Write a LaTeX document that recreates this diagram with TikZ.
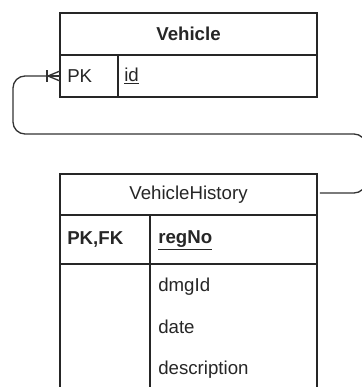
\documentclass[tikz,border=0pt]{standalone}
\usepackage{fontspec}
\setmainfont{Liberation Sans}
\usetikzlibrary{arrows.meta}
\begin{document}
\begin{tikzpicture}[x=0.75pt,y=-0.75pt,
  box/.style={draw=black!85,line width=1pt,inner sep=0pt,outer sep=0pt},
  lbl/.style={font=\fontsize{14}{16}\selectfont,text=black!85,inner sep=0pt},
  conn/.style={draw=black!80,line width=1pt,rounded corners=9pt}]
\useasboundingbox (0,0) rectangle (362,387);
\clip (0,0) rectangle (362,387);
% Vehicle entity
\node[box,minimum width=257*0.75pt,minimum height=42*0.75pt,anchor=north west] (vh) at (60,13) {};
\node[box,minimum width=58*0.75pt,minimum height=42*0.75pt,anchor=north west] (vpk) at (60,55) {};
\node[box,minimum width=199*0.75pt,minimum height=42*0.75pt,anchor=north west] (vid) at (118,55) {};
\node[lbl,font=\fontsize{14}{16}\selectfont\bfseries] (vt) at (vh.center) {Vehicle};
\node[lbl,anchor=west] (vpkt) at (67,76) {PK};
\node[lbl,anchor=west] (vidt) at (124,76) {\underline{id}};
% VehicleHistory entity
\node[box,minimum width=257*0.75pt,minimum height=41*0.75pt,anchor=north west] (hh) at (60,174) {};
\node[box,minimum width=90*0.75pt,minimum height=49*0.75pt,anchor=north west] (hpk) at (60,215) {};
\node[box,minimum width=167*0.75pt,minimum height=49*0.75pt,anchor=north west] (hreg) at (150,215) {};
\node[box,minimum width=90*0.75pt,minimum height=140*0.75pt,anchor=north west] (hpk2) at (60,264) {};
\node[box,minimum width=167*0.75pt,minimum height=140*0.75pt,anchor=north west] (hrest) at (150,264) {};
\node[lbl] (ht) at (hh.center) {VehicleHistory};
\node[lbl,anchor=west,font=\fontsize{14}{16}\selectfont\bfseries] (hpkt) at (67,240) {PK,FK};
\node[lbl,anchor=west,font=\fontsize{14}{16}\selectfont\bfseries] (hregt) at (158,240) {\underline{regNo}};
\node[lbl,anchor=west] (hdmg) at (158,287) {dmgId};
\node[lbl,anchor=west] (hdate) at (158,327) {date};
\node[lbl,anchor=west] (hdesc) at (158,370) {description};
% connector
\coordinate (s) at (320,193);
\coordinate (e) at (60,76);
\coordinate (cf) at (48,76);
\path[conn] (s) -- (366,193) -- (366,134) -- (13,134) -- (13,76) -- (cf);
\draw[black!80,line width=1pt] (cf) -- (vpk.west |- e);
\draw[black!80,line width=1pt] (cf) -- (60,71) (cf) -- (60,81);
\draw[black!80,line width=1pt] (47,70) -- (47,82);
\end{tikzpicture}
\end{document}
